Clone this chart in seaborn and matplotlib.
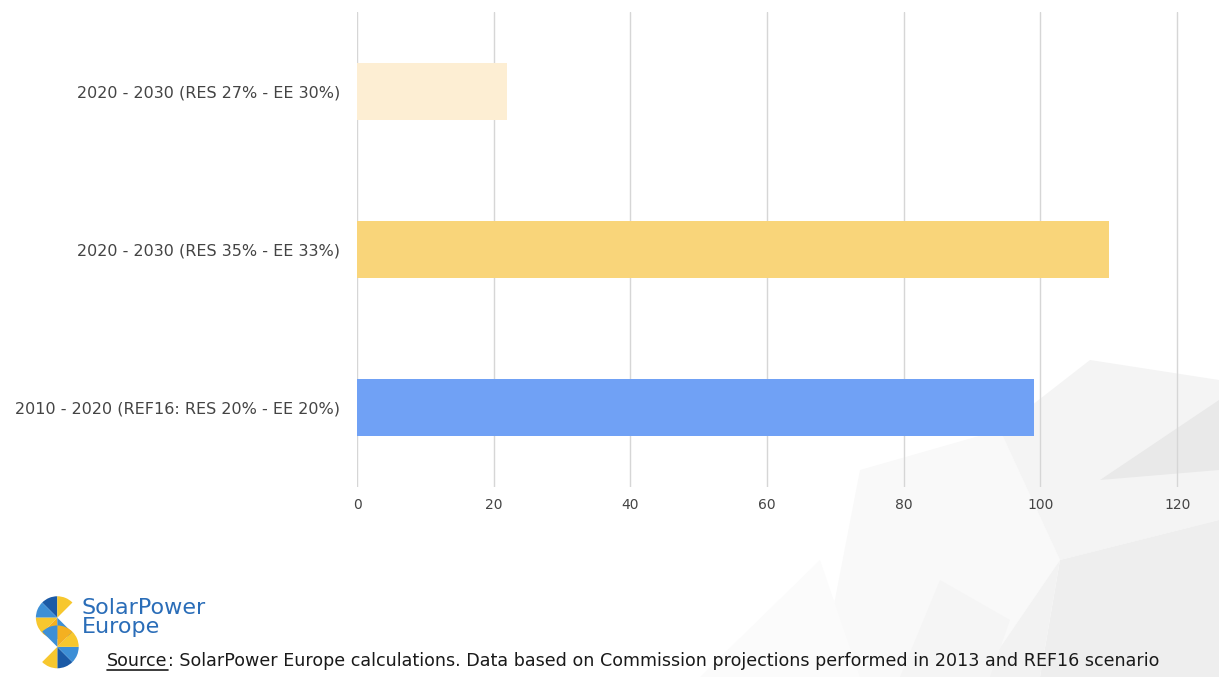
import matplotlib
matplotlib.use("Agg")
import matplotlib.pyplot as plt
from matplotlib.patches import Wedge, Polygon
import pandas as pd
import seaborn as sns

# data
scenarios = [
    "2020 - 2030 (RES 27% - EE 30%)",
    "2020 - 2030 (RES 35% - EE 33%)",
    "2010 - 2020 (REF16: RES 20% - EE 20%)",
]
values = [22, 110, 99]
bar_colors = ["#FDEED3", "#F9D57A", "#70A1F5"]
x_ticks = [0, 20, 40, 60, 80, 100, 120]

source_label = "Source"
source_rest = ": SolarPower Europe calculations. Data based on Commission projections performed in 2013 and REF16 scenario"

sns.set_theme(style="white")
plt.rcParams["font.family"] = ["DejaVu Sans"]

fig = plt.figure(figsize=(12.19, 6.77), dpi=100)
fig.patch.set_facecolor("white")

# faint low-poly background in the bottom right corner
bg = fig.add_axes([0, 0, 1, 1], zorder=0)
bg.set_xlim(0, 1219)
bg.set_ylim(677, 0)
bg.axis("off")
polys = [
    ([(820, 677), (860, 470), (1000, 430), (1060, 560), (980, 677)], "#f9f9f9"),
    ([(1000, 430), (1090, 360), (1219, 380), (1219, 520), (1060, 560)], "#f4f4f4"),
    ([(1060, 560), (1219, 520), (1219, 677), (1040, 677)], "#eeeeee"),
    ([(980, 677), (1060, 560), (1040, 677)], "#f2f2f2"),
    ([(1100, 480), (1219, 400), (1219, 470)], "#e9e9e9"),
    ([(900, 677), (940, 580), (1010, 620), (990, 677)], "#f5f5f5"),
    ([(700, 677), (820, 560), (860, 677)], "#fbfbfb"),
]
for pts, c in polys:
    bg.add_patch(Polygon(pts, closed=True, facecolor=c, edgecolor="none"))

ax = fig.add_axes([0.2929, 0.2807, 0.6784, 0.7013], zorder=2)
ax.patch.set_alpha(0)
df = pd.DataFrame({"scenario": scenarios, "value": values})
sns.barplot(
    data=df,
    x="value",
    y="scenario",
    hue="scenario",
    palette=dict(zip(scenarios, bar_colors)),
    saturation=1,
    width=0.36,
    linewidth=0,
    legend=False,
    ax=ax,
    zorder=3,
)
ax.set_xlim(0, 121)
ax.set_ylim(2.5, -0.5)
ax.set_xticks(x_ticks)
ax.xaxis.grid(True, color="#d6d6d6", linewidth=1.0, zorder=0)
ax.set_axisbelow(True)
for s in ax.spines.values():
    s.set_visible(False)
ax.set_xlabel("")
ax.set_ylabel("")
ax.tick_params(axis="x", length=0, pad=8, labelsize=10, labelcolor="#444444")
ax.tick_params(axis="y", length=0, pad=12, labelsize=11.5, labelcolor="#444444")

# logo
lg = fig.add_axes([0.022, 0.01, 0.05, 0.115], zorder=3)
lg.set_xlim(0, 50)
lg.set_ylim(0, 80)
lg.set_aspect("equal")
lg.axis("off")
blue, lblue, yel, dyel = "#1b5aa6", "#3d8fd6", "#f7c72e", "#f4b021"
top = [(90, 135, blue), (135, 180, lblue), (180, 225, yel), (225, 270, dyel),
       (45, 90, yel), (270, 315, lblue)]
for a1, a2, c in top:
    lg.add_patch(Wedge((25, 54), 22, a1, a2, facecolor=c, edgecolor="none"))
bot = [(270, 315, blue), (315, 360, lblue), (0, 45, yel), (45, 90, dyel),
       (225, 270, yel), (90, 135, lblue)]
for a1, a2, c in bot:
    lg.add_patch(Wedge((25, 24), 22, a1, a2, facecolor=c, edgecolor="none"))

fig.text(0.067, 0.088, "SolarPower\nEurope", color="#2a6db8", fontsize=16,
         linespacing=0.9, va="center", ha="left")

# source line with underlined label
t1 = fig.text(0.088, 0.016, source_label, fontsize=12.6, color="#1a1a1a", va="baseline")
fig.canvas.draw()
bb = t1.get_window_extent()
x0, x1 = bb.x0 / fig.bbox.width, bb.x1 / fig.bbox.width
fig.add_artist(plt.Line2D([x0, x1], [0.011, 0.011], color="#1a1a1a", linewidth=1.2))
fig.text(x1, 0.016, source_rest, fontsize=12.6, color="#1a1a1a", va="baseline")

fig.savefig("out.png", dpi=100)
